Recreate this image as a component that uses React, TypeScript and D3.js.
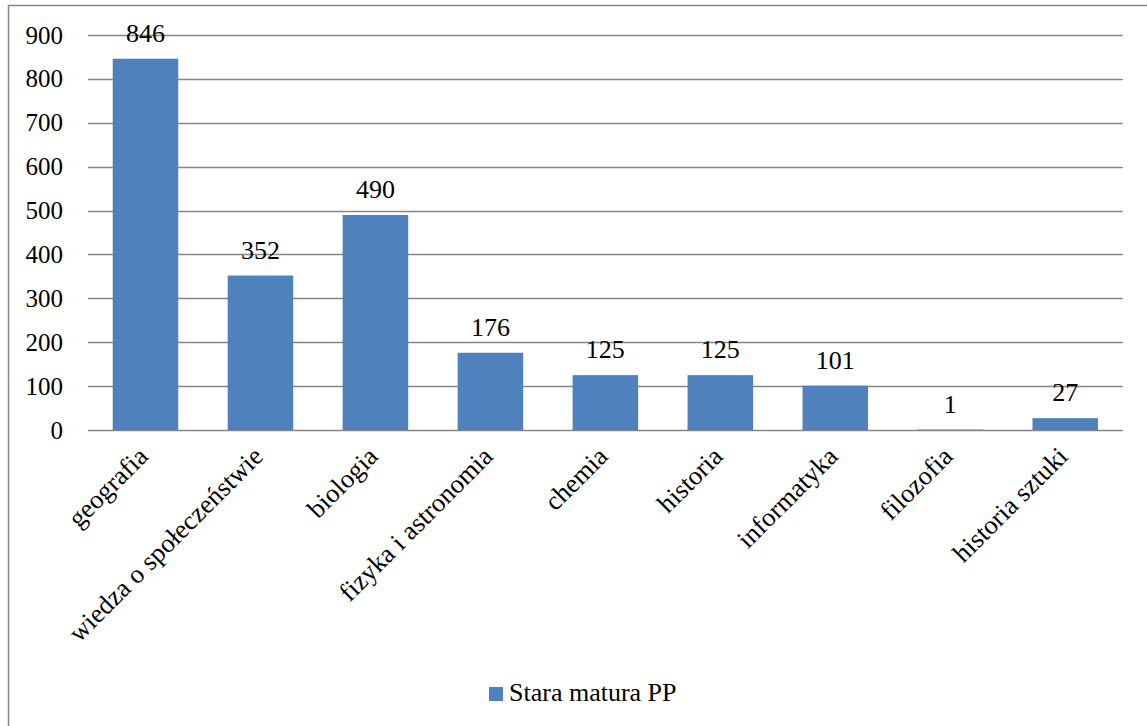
import * as d3 from "d3";

const categories = [
  "geografia",
  "wiedza o społeczeństwie",
  "biologia",
  "fizyka i astronomia",
  "chemia",
  "historia",
  "informatyka",
  "filozofia",
  "historia sztuki",
];
const values = [846, 352, 490, 176, 125, 125, 101, 1, 27];
const yTicks = [0, 100, 200, 300, 400, 500, 600, 700, 800, 900];
const seriesName = "Stara matura PP";

const W = 1147;
const H = 726;
const BAR = "#4F81BD";
const GRID = "#868686";
const textStyle = { fontFamily: '"Liberation Serif"' };

const x = d3
  .scaleBand<string>()
  .domain(categories)
  .range([88, 1122.7])
  .paddingInner(0.43)
  .paddingOuter(0.215);

const y = d3.scaleLinear().domain([0, 900]).range([430, 35]);

export const App = () => {
  return (
    <svg
      width={W}
      height={H}
      style={{ position: "absolute", left: 0, top: 0, background: "#fff" }}
    >
      {/* outer chart border, runs off the right and bottom edges */}
      <rect x={8.5} y={5.5} width={W + 10} height={H + 10} fill="none" stroke={GRID} strokeWidth={1.5} />

      {/* gridlines */}
      {yTicks.map((t) => (
        <line
          key={"g" + t}
          x1={88}
          x2={1122.7}
          y1={Math.round(y(t)) + 0.5}
          y2={Math.round(y(t)) + 0.5}
          stroke={GRID}
          strokeWidth={1.5}
        />
      ))}

      {/* y tick labels */}
      {yTicks.map((t) => (
        <text key={"t" + t} x={63} y={y(t) + 8.5} textAnchor="end" fontSize={25} style={textStyle}>
          {t}
        </text>
      ))}

      {/* bars */}
      {values.map((v, i) => (
        <rect
          key={"b" + i}
          x={x(categories[i])}
          width={x.bandwidth()}
          y={y(v)}
          height={y(0) - y(v)}
          fill={BAR}
        />
      ))}

      {/* data labels */}
      {values.map((v, i) => (
        <text
          key={"l" + i}
          x={(x(categories[i]) as number) + x.bandwidth() / 2}
          y={y(v) - 17}
          textAnchor="middle"
          fontSize={26}
          style={textStyle}
        >
          {v}
        </text>
      ))}

      {/* category labels, rotated */}
      {categories.map((c) => {
        const cx = (x(c) as number) + x.bandwidth() / 2 + 4;
        return (
          <text
            key={"c" + c}
            transform={`translate(${cx}, 458) rotate(-45)`}
            textAnchor="end"
            fontSize={26.5}
            style={textStyle}
          >
            {c}
          </text>
        );
      })}

      {/* legend */}
      <rect x={489} y={687} width={14} height={14} fill={BAR} />
      <text x={509} y={701} fontSize={26} style={textStyle}>
        {seriesName}
      </text>
    </svg>
  );
};

export default App;
